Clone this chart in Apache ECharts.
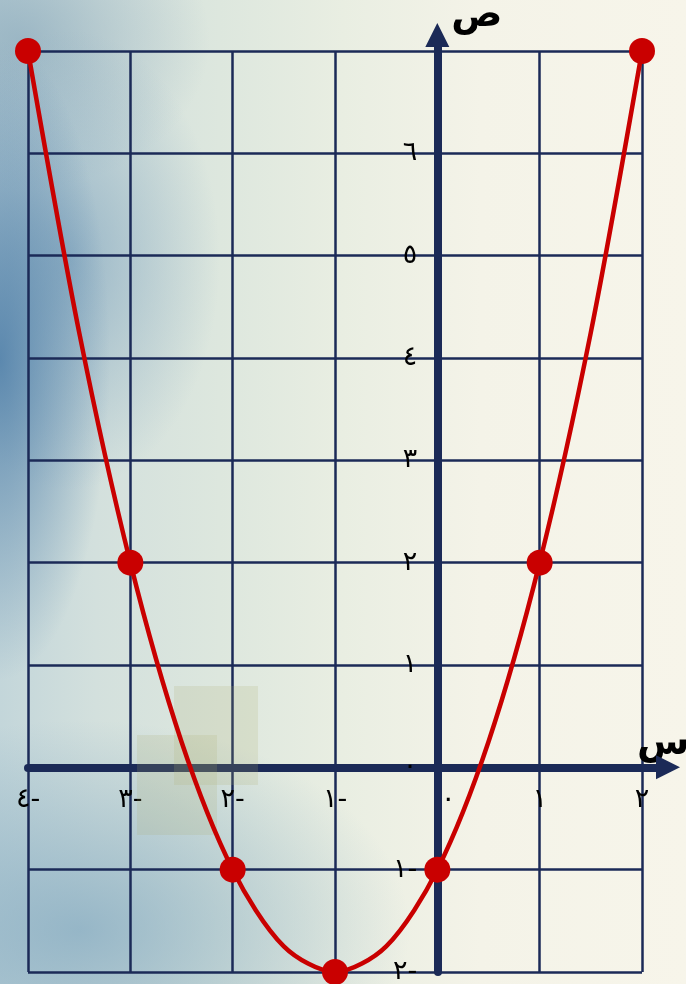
<!DOCTYPE html>
<html>
<head>
<meta charset="utf-8">
<script src="https://cdn.jsdelivr.net/npm/echarts@6/dist/echarts.min.js"></script>
<style>
  html, body { margin: 0; padding: 0; }
  body {
    width: 686px; height: 984px; overflow: hidden;
    background:
      radial-gradient(ellipse 110px 320px at 0px 360px, rgba(70, 120, 165, 0.8), rgba(70, 120, 165, 0) 100%),
      radial-gradient(ellipse 150px 230px at 70px 260px, rgba(115, 155, 185, 0.6), rgba(115, 155, 185, 0) 100%),
      radial-gradient(ellipse 330px 210px at 80px 930px, rgba(125, 165, 190, 0.7), rgba(125, 165, 190, 0) 100%),
      radial-gradient(ellipse 190px 150px at 20px 40px, rgba(120, 155, 178, 0.55), rgba(120, 155, 178, 0) 100%),
      linear-gradient(90deg, #c3d6da 0%, #d3e0dd 14%, #dde7de 32%, #e9eee2 50%, #f4f3e8 70%, #f7f5ea 100%);
  }
  #chart { width: 686px; height: 984px; }
</style>
</head>
<body>
<div id="chart"></div>
<script>
// plotted points (x, y)
const xValues = [-4, -3, -2, -1, 0, 1, 2];
const yValues = [7, 2, -1, -2, -1, 2, 7];
// the drawn curve, every half step
const curveX = [-4, -3.5, -3, -2.5, -2, -1.5, -1, -0.5, 0, 0.5, 1, 1.5, 2];
const curveY = [7, 4.25, 2, 0.25, -1, -1.75, -2, -1.75, -1, 0.25, 2, 4.25, 7];
// which ticks get a label
const xTickLabels = [-4, -3, -2, -1, 0, 1, 2];
const yTickLabels = [-2, -1, 0, 1, 2, 3, 4, 5, 6];
const arabicDigits = ['٠', '١', '٢', '٣', '٤', '٥', '٦', '٧', '٨', '٩'];
const xName = 'س';
const yName = 'ص';

const NAVY = '#1b2a57';
const RED = '#c90000';
const FONT = 'DejaVu Sans';

// paper grid box and where zero falls inside it
const G = { left: 28, right: 44, top: 51, bottom: 12 };
const W = 686 - G.left - G.right, H = 984 - G.top - G.bottom;
const zeroFromLeft = W * 4 / 6;
const zeroFromBottom = H * 2 / 9;

// arabic-indic digits, minus written after the number like the worksheet
function toArabic(v) {
  const d = String(Math.abs(v)).split('').map(c => arabicDigits[+c]).join('');
  return v < 0 ? d + '-' : d;
}
function labelFor(list, zeroRich) {
  return v => {
    const r = Math.round(v);
    if (Math.abs(v - r) > 1e-6 || list.indexOf(r) < 0) return '';
    if (r === 0 && zeroRich) return '{z|' + toArabic(r) + '}';
    return toArabic(r);
  };
}

const labelStyle = { color: '#000', fontFamily: FONT, fontSize: 27 };
const nameStyle = { color: '#000', fontFamily: FONT, fontSize: 38, fontWeight: 'bold' };

const chart = echarts.init(document.getElementById('chart'));

chart.setOption({
  backgroundColor: 'transparent',
  animation: false,
  grid: [
    // squared paper
    { ...G, outerBoundsMode: 'none', containLabel: false },
    // thick axes with arrows, same scale but reaching further
    { left: 28, right: 18, top: 35, bottom: 12, outerBoundsMode: 'none', containLabel: false }
  ],
  xAxis: [
    {
      gridIndex: 0, type: 'value', min: -4, max: 2, interval: 1,
      axisLine: { show: false }, axisTick: { show: false }, axisLabel: { show: false },
      splitLine: { show: true, lineStyle: { color: NAVY, width: 2.5 } }
    },
    {
      gridIndex: 1, type: 'value', min: -4, max: 2.254, interval: 1,
      axisLine: {
        show: true, onZero: true,
        symbol: ['none', 'triangle'], symbolSize: [24, 24],
        lineStyle: { color: NAVY, width: 8 }
      },
      axisTick: { show: false }, axisLabel: { show: false }, splitLine: { show: false },
      name: xName, nameLocation: 'end', nameGap: -31,
      nameTextStyle: { ...nameStyle, verticalAlign: 'bottom', padding: [0, 0, 4, 0] }
    },
    {
      // tick labels along the zero line
      gridIndex: 0, type: 'value', min: -4, max: 2, interval: 1,
      position: 'bottom', offset: -zeroFromBottom,
      axisLine: { show: false, onZero: false }, axisTick: { show: false }, splitLine: { show: false },
      axisLabel: {
        show: true, margin: 19, ...labelStyle,
        showMinLabel: true, showMaxLabel: true, hideOverlap: false,
        formatter: labelFor(xTickLabels, true),
        rich: { z: { ...labelStyle, padding: [0, 0, 0, 22] } }
      }
    }
  ],
  yAxis: [
    {
      gridIndex: 0, type: 'value', min: -2, max: 7, interval: 1,
      axisLine: { show: false }, axisTick: { show: false }, axisLabel: { show: false },
      splitLine: { show: true, lineStyle: { color: NAVY, width: 2.5 } }
    },
    {
      gridIndex: 1, type: 'value', min: -2, max: 7.157, interval: 1,
      axisLine: {
        show: true, onZero: true,
        symbol: ['none', 'triangle'], symbolSize: [24, 24],
        lineStyle: { color: NAVY, width: 8 }
      },
      axisTick: { show: false }, axisLabel: { show: false }, splitLine: { show: false },
      name: yName, nameLocation: 'end', nameGap: 0,
      nameTextStyle: { ...nameStyle, align: 'left', verticalAlign: 'bottom', padding: [0, 0, 0, 14] }
    },
    {
      gridIndex: 0, type: 'value', min: -2, max: 7, interval: 1,
      position: 'left', offset: -zeroFromLeft,
      axisLine: { show: false, onZero: false }, axisTick: { show: false }, splitLine: { show: false },
      axisLabel: {
        show: true, margin: 20, ...labelStyle,
        verticalAlign: 'middle', padding: [0, 0, 18, 0], hideOverlap: false,
        showMinLabel: true, showMaxLabel: true,
        formatter: labelFor(yTickLabels, false)
      }
    }
  ],
  graphic: [
    // faint watermark squares on the worksheet
    { type: 'rect', z: 3, shape: { x: 174, y: 686, width: 84, height: 99 },
      style: { fill: 'rgba(170, 170, 110, 0.18)' } },
    { type: 'rect', z: 3, shape: { x: 137, y: 735, width: 80, height: 100 },
      style: { fill: 'rgba(170, 170, 110, 0.18)' } }
  ],
  series: [
    {
      type: 'line',
      xAxisIndex: 0, yAxisIndex: 0,
      data: curveX.map((x, i) => [x, curveY[i]]),
      smooth: 0.3,
      clip: false,
      showSymbol: false,
      lineStyle: { color: RED, width: 4.5 },
      z: 5
    },
    {
      type: 'scatter',
      xAxisIndex: 0, yAxisIndex: 0,
      data: xValues.map((x, i) => [x, yValues[i]]),
      clip: false,
      symbol: 'circle', symbolSize: 26,
      itemStyle: { color: RED, opacity: 1 },
      z: 6
    }
  ]
});
</script>
</body>
</html>
